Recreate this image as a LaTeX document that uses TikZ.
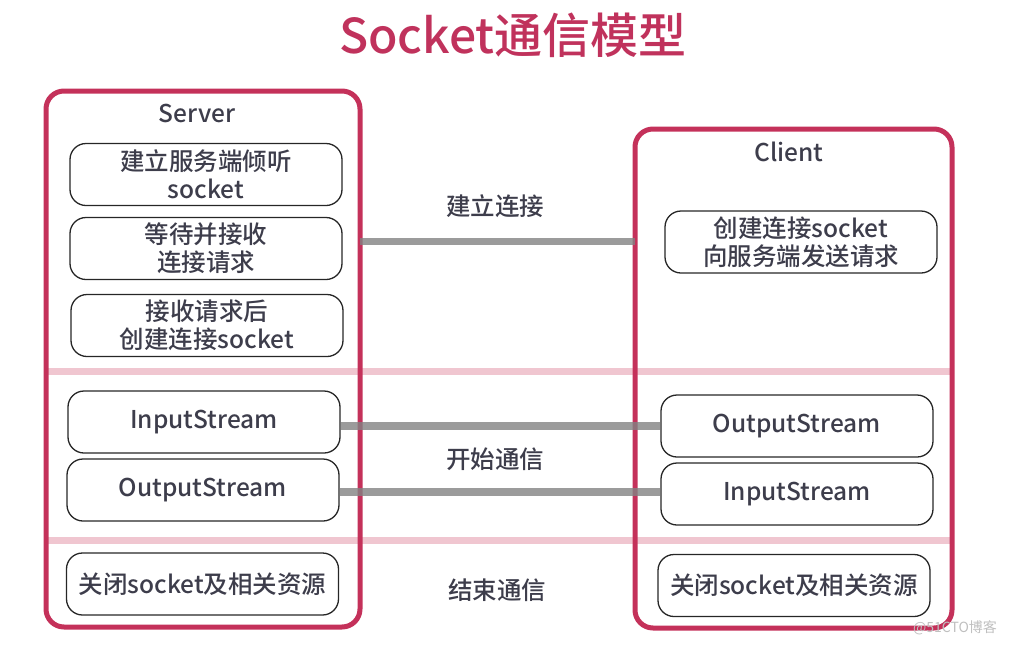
\documentclass[tikz,border=0pt]{standalone}
\usepackage{fontspec}
\setmainfont{Noto Sans CJK SC}[BoldFont={Noto Sans CJK SC Medium}]
\definecolor{redc}{HTML}{C4315A}
\definecolor{titc}{HTML}{C0325C}
\definecolor{pinkc}{HTML}{F0C6D0}
\definecolor{txt}{HTML}{3D3D4B}
\begin{document}
\begin{tikzpicture}[x=1pt,y=-1pt,
  outer/.style={draw=redc, line width=5pt, rounded corners=18pt, inner sep=0pt, outer sep=0pt},
  item/.style={draw=black!85, line width=1.3pt, rounded corners=16pt, minimum width=272pt, minimum height=62pt, align=center, font=\fontsize{24.5}{28}\selectfont\bfseries, text=txt, inner sep=0pt},
  lbl/.style={font=\fontsize{24.5}{28}\selectfont\bfseries, text=txt},
  band/.style={draw=pinkc, line width=7pt},
  conn/.style={draw=black!49, line width=7.5pt, opacity=0.8}]
\useasboundingbox (0,0) rectangle (1013,646);
% title
\node[font=\fontsize{48}{50}\selectfont\bfseries, text=titc] (title) at (513,35) {Socket通信模型};
% pink separator bands
\draw[band] (46,371) -- (952,371);
\draw[band] (46,540) -- (952,540);
% outer boxes
\node[outer, minimum width=314pt, minimum height=536pt] (server) at (203,359) {};
\node[outer, minimum width=317pt, minimum height=499pt] (client) at (793.5,378.5) {};
\node[lbl] (slbl) at (197,113) {Server};
\node[lbl] (clbl) at (789,152) {Client};
% server items
\node[item] (s1) at (206,174.5) {建立服务端倾听\\socket};
\node[item] (s2) at (206,248.5) {等待并接收\\连接请求};
\node[item] (s3) at (207,325.5) {接收请求后\\创建连接socket};
\node[item] (s4) at (204,422) {InputStream};
\node[item] (s5) at (203,490) {OutputStream};
\node[item] (s6) at (202.5,584) {关闭socket及相关资源};
% client items
\node[item] (c1) at (801,242) {创建连接socket\\向服务端发送请求};
\node[item] (c2) at (797,426) {OutputStream};
\node[item] (c3) at (797,494) {InputStream};
\node[item] (c4) at (794,585.5) {关闭socket及相关资源};
% connectors
\draw[conn] ([yshift=7pt]server.east |- s2.east) -- ([yshift=7pt]client.west |- s2.east);
\draw[conn] (s4.east |- c2.west) -- (c2.west);
\draw[conn] ([yshift=-2pt]s5.east) -- ([yshift=-2pt]s5.east -| c3.west);
% phase labels
\node[lbl] (l1) at (495,206) {建立连接};
\node[lbl] (l2) at (495,459) {开始通信};
\node[lbl] (l3) at (497,590) {结束通信};
% watermark
\node[font=\fontsize{14}{16}\selectfont, text=black!25] (wm) at (955,628) {@51CTO博客};
\end{tikzpicture}
\end{document}
